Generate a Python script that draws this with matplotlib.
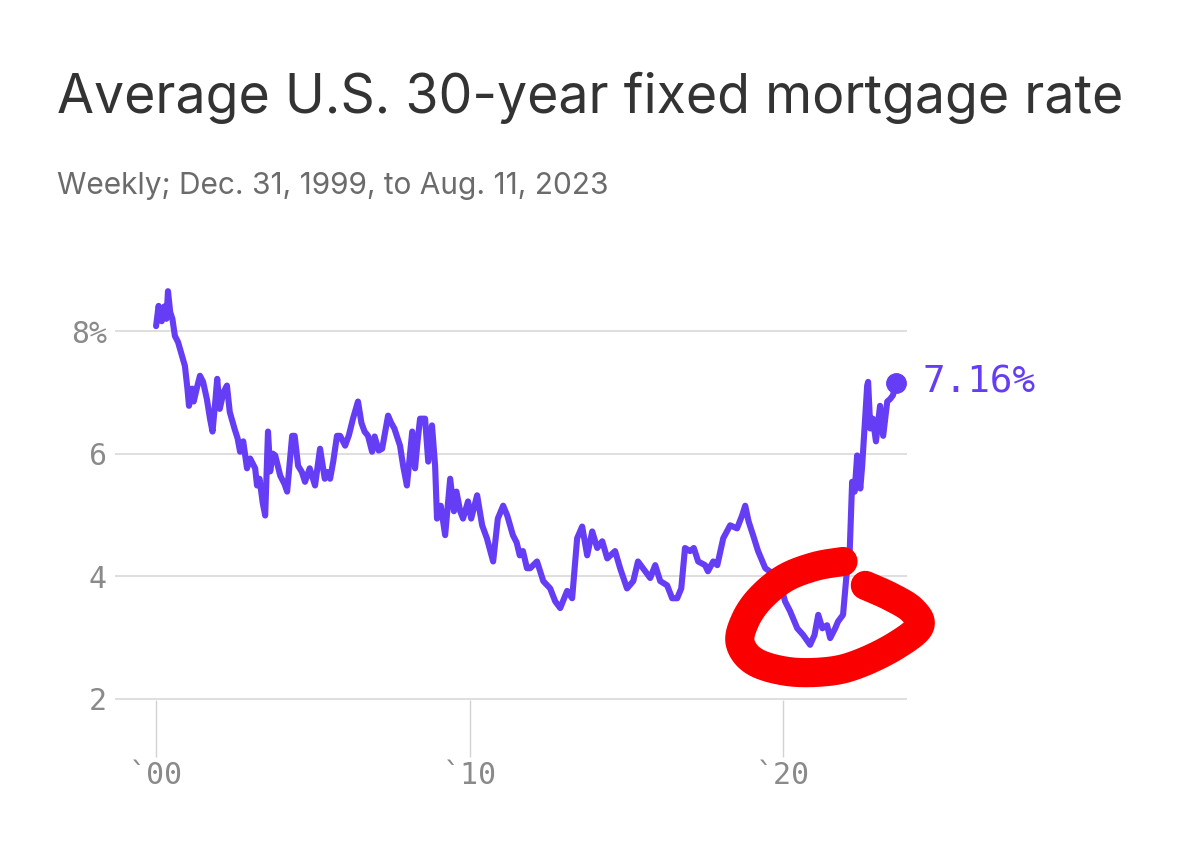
import numpy as np
import matplotlib
matplotlib.use("Agg")
import matplotlib.pyplot as plt

# ---- data (decimal year, rate %) ----
years = [
    2000.00, 2000.08, 2000.18, 2000.26, 2000.33, 2000.38, 2000.45, 2000.52, 2000.60, 2000.70,
    2000.83, 2000.92, 2001.00, 2001.05, 2001.15, 2001.20, 2001.32, 2001.40, 2001.50, 2001.62,
    2001.72, 2001.80, 2001.88, 2001.95, 2002.03, 2002.15, 2002.26, 2002.35, 2002.50, 2002.60,
    2002.68, 2002.78, 2002.90, 2003.00, 2003.16, 2003.22, 2003.30, 2003.40, 2003.48, 2003.57,
    2003.64, 2003.72, 2003.80, 2003.96, 2004.10, 2004.18, 2004.34, 2004.42, 2004.53, 2004.65,
    2004.75, 2004.90, 2005.07, 2005.23, 2005.38, 2005.45, 2005.55, 2005.65, 2005.77, 2005.87,
    2006.03, 2006.15, 2006.28, 2006.44, 2006.55, 2006.65, 2006.76, 2006.89, 2006.97, 2007.10,
    2007.21, 2007.40, 2007.50, 2007.60, 2007.78, 2007.88, 2008.00, 2008.10, 2008.17, 2008.26,
    2008.34, 2008.42, 2008.58, 2008.68, 2008.80, 2008.90, 2008.96, 2009.08, 2009.22, 2009.38,
    2009.50, 2009.58, 2009.70, 2009.79, 2009.95, 2010.05, 2010.24, 2010.40, 2010.55, 2010.75,
    2010.90, 2011.07, 2011.20, 2011.38, 2011.50, 2011.60, 2011.70, 2011.83, 2011.93, 2012.15,
    2012.35, 2012.57, 2012.73, 2012.89, 2013.11, 2013.27, 2013.43, 2013.59, 2013.75, 2013.91,
    2014.07, 2014.23, 2014.39, 2014.64, 2014.80, 2015.02, 2015.22, 2015.37, 2015.60, 2015.76,
    2015.92, 2016.08, 2016.30, 2016.46, 2016.62, 2016.75, 2016.87, 2017.03, 2017.15, 2017.29,
    2017.51, 2017.60, 2017.77, 2017.90, 2018.09, 2018.31, 2018.53, 2018.69, 2018.79, 2018.90,
    2019.04, 2019.20, 2019.43, 2019.65, 2019.84, 2020.06, 2020.22, 2020.45, 2020.64, 2020.86,
    2021.00, 2021.12, 2021.25, 2021.40, 2021.50, 2021.66, 2021.75, 2021.91, 2022.04, 2022.10,
    2022.20, 2022.28, 2022.36, 2022.46, 2022.52, 2022.68, 2022.71, 2022.78, 2022.86, 2022.96,
    2023.09, 2023.19, 2023.32, 2023.41, 2023.50, 2023.61,
]
rates = [
    8.08, 8.41, 8.16, 8.40, 8.20, 8.65, 8.31, 8.20, 7.92, 7.82,
    7.59, 7.43, 7.06, 6.78, 7.06, 6.85, 7.11, 7.27, 7.17, 6.89,
    6.57, 6.36, 6.80, 7.22, 6.73, 7.00, 7.11, 6.68, 6.41, 6.25,
    6.03, 6.20, 5.76, 5.92, 5.76, 5.48, 5.59, 5.20, 4.99, 6.36,
    5.71, 6.00, 5.97, 5.64, 5.50, 5.38, 6.29, 6.29, 5.80, 5.70,
    5.54, 5.76, 5.48, 6.08, 5.59, 5.70, 5.59, 5.87, 6.29, 6.29,
    6.13, 6.30, 6.57, 6.85, 6.50, 6.36, 6.29, 6.03, 6.28, 6.05,
    6.08, 6.62, 6.50, 6.41, 6.13, 5.80, 5.48, 6.00, 6.36, 5.76,
    6.20, 6.57, 6.57, 5.87, 6.46, 5.80, 4.94, 5.15, 4.67, 5.59,
    5.06, 5.38, 5.06, 4.94, 5.22, 4.94, 5.32, 4.83, 4.62, 4.24,
    4.94, 5.15, 4.99, 4.67, 4.55, 4.34, 4.41, 4.13, 4.13, 4.24,
    3.92, 3.80, 3.59, 3.48, 3.76, 3.64, 4.62, 4.81, 4.34, 4.73,
    4.46, 4.57, 4.29, 4.41, 4.13, 3.80, 3.92, 4.24, 4.08, 3.97,
    4.18, 3.92, 3.85, 3.64, 3.64, 3.80, 4.46, 4.41, 4.46, 4.24,
    4.18, 4.08, 4.24, 4.18, 4.62, 4.83, 4.78, 4.99, 5.15, 4.89,
    4.67, 4.41, 4.13, 4.05, 4.02, 3.59, 3.43, 3.15, 3.04, 2.88,
    3.04, 3.37, 3.15, 3.20, 2.99, 3.15, 3.26, 3.37, 4.13, 4.08,
    5.54, 5.38, 5.97, 5.43, 5.80, 7.11, 7.17, 6.41, 6.57, 6.20,
    6.78, 6.29, 6.85, 6.89, 6.95, 7.16,
]
last_label = "7.16%"

y_ticks = [2, 4, 6, 8]
y_labels = ["2", "4", "6", "8%"]
x_ticks = [2000, 2010, 2020]
x_labels = ["`00", "`10", "`20"]

title = "Average U.S. 30-year fixed mortgage rate"
subtitle = "Weekly; Dec. 31, 1999, to Aug. 11, 2023"

# hand-drawn red circle annotation (data units)
circle_x = [2021.91, 2021.02, 2020.06, 2019.27, 2018.79, 2018.63, 2019.11, 2020.22,
            2021.50, 2022.46, 2023.57, 2024.35, 2024.11, 2023.41, 2022.62]
circle_y = [4.24, 4.16, 3.97, 3.64, 3.28, 2.91, 2.60, 2.44,
            2.45, 2.58, 2.86, 3.18, 3.45, 3.67, 3.85]

PURPLE = "#653df4"
GRAY_TXT = "#8a8a8a"

fig = plt.figure(figsize=(12, 8.43), dpi=100)
fig.patch.set_facecolor("white")
ax = fig.add_axes([115 / 1200, 1 - 700 / 843, 792 / 1200, 418 / 843])

ax.plot(years, rates, color=PURPLE, lw=4.4, solid_joinstyle="round", solid_capstyle="round", zorder=3)
ax.plot([years[-1]], [rates[-1]], "o", color=PURPLE, ms=14, zorder=4)
ax.annotate(last_label, xy=(years[-1], rates[-1]), xytext=(19, 0), textcoords="offset points",
            va="center", ha="left", color=PURPLE, fontsize=27, family="DejaVu Sans Mono",
            annotation_clip=False)


def catmull(xs, ys, n=20):
    p = np.column_stack([xs, ys]).astype(float)
    p = np.vstack([p[0], p, p[-1]])
    out = []
    for i in range(1, len(p) - 2):
        p0, p1, p2, p3 = p[i - 1], p[i], p[i + 1], p[i + 2]
        t = np.linspace(0, 1, n, endpoint=False)[:, None]
        out.append(0.5 * ((2 * p1) + (-p0 + p2) * t + (2 * p0 - 5 * p1 + 4 * p2 - p3) * t ** 2
                          + (-p0 + 3 * p1 - 3 * p2 + p3) * t ** 3))
    out.append(p[-2][None, :])
    return np.vstack(out)


c = catmull(circle_x, circle_y)
ax.plot(c[:, 0], c[:, 1], color="#fb0000", lw=21, solid_capstyle="round",
        solid_joinstyle="round", clip_on=False, zorder=5)

ax.set_xlim(1998.69, 2023.95)
ax.set_ylim(1.98, 8.8)
ax.set_yticks(y_ticks)
ax.set_yticklabels(y_labels)
ax.set_xticks(x_ticks)
ax.set_xticklabels(x_labels)
for s in ax.spines.values():
    s.set_visible(False)
ax.grid(axis="y", color="#d9d9d9", lw=1.2, zorder=0)
ax.tick_params(axis="y", length=0, pad=6, labelsize=21.5, labelcolor=GRAY_TXT)
ax.tick_params(axis="x", length=41, width=1.0, color="#d2d2d2", pad=3, labelsize=21.5,
               labelcolor=GRAY_TXT)
for lab in ax.get_xticklabels() + ax.get_yticklabels():
    lab.set_family("DejaVu Sans Mono")

fig.text(57 / 1200, 1 - 113 / 843, title, fontsize=38.6, color="#333333", family="Inter",
         va="baseline", ha="left")
fig.text(57 / 1200, 1 - 194 / 843, subtitle, fontsize=21.5, color="#6b6b6b", family="Inter",
         va="baseline", ha="left")

fig.savefig("out.png", dpi=100, facecolor="white")
